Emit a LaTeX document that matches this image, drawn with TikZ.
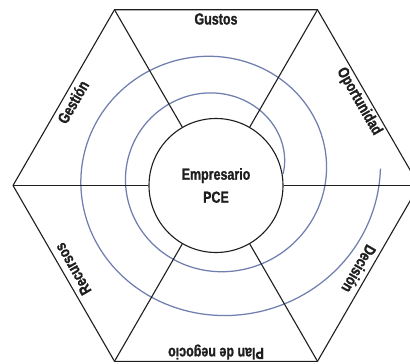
\documentclass[tikz,border=0pt]{standalone}
\usepackage{fontspec}
\newfontfamily\lblfont{Liberation Sans}[FakeStretch=0.78, BoldFeatures={FakeBold=1.2}]
\definecolor{spiralblue}{RGB}{112,126,176}
\definecolor{inkgray}{RGB}{30,30,30}
\tikzset{
  edge/.style={draw=inkgray, line width=1.1pt},
  label/.style={font=\lblfont\bfseries\fontsize{16}{18}\selectfont, text=inkgray, inner sep=0pt},
  spiralline/.style={draw=spiralblue, line width=1.25pt},
}
\begin{document}
\begin{tikzpicture}[x=1pt,y=-1pt]
\useasboundingbox (0,0) rectangle (410,364);
\clip (0,0) rectangle (410,364);
\fill[white] (0,0) rectangle (410,364);
% hexagon vertices
\coordinate (v0) at (419,185.5);
\coordinate (v1) at (317.5,9.7);
\coordinate (v2) at (114.5,9.7);
\coordinate (v3) at (13,185.5);
\coordinate (v4) at (114.5,361.3);
\coordinate (v5) at (317.5,361.3);
% spiral
\draw[spiralline] plot[smooth, samples=220, domain=0:722, variable=\t]
  ({216+(67+8*(1-exp(-\t/35))+0.07*\t+0.656*(\t/100)^2)*cos(\t)*(1+0.03*\t/720)},
   {174-(67+8*(1-exp(-\t/35))+0.07*\t+0.656*(\t/100)^2)*sin(\t)*(1-0.03*\t/720)});
% hexagon
\draw[edge, line join=round] (v0) -- (v1) -- (v2) -- (v3) -- (v4) -- (v5) -- cycle;
% center
\node[circle, edge, fill=none, minimum size=134pt, inner sep=0pt, align=center,
      font=\lblfont\bfseries\fontsize{16}{23}\selectfont, text=inkgray] (c) at (216,185.5) {Empresario\\PCE};
\foreach \v in {v0,v1,v2,v3,v4,v5} \draw[edge] (c) -- (\v);
% labels
\node[label] (gustos) at (216,19) {Gustos};
\node[label, rotate=-60] (oport) at (359,101.5) {Oportunidad};
\node[label, rotate=-120] (decis) at (359,269) {Decisión};
\node[label, rotate=180] (plan) at (216,352) {Plan de negocio};
\node[label, rotate=120] (recur) at (73,269) {Recursos};
\node[label, rotate=60] (gest) at (73,102) {Gestión};
\end{tikzpicture}
\end{document}
